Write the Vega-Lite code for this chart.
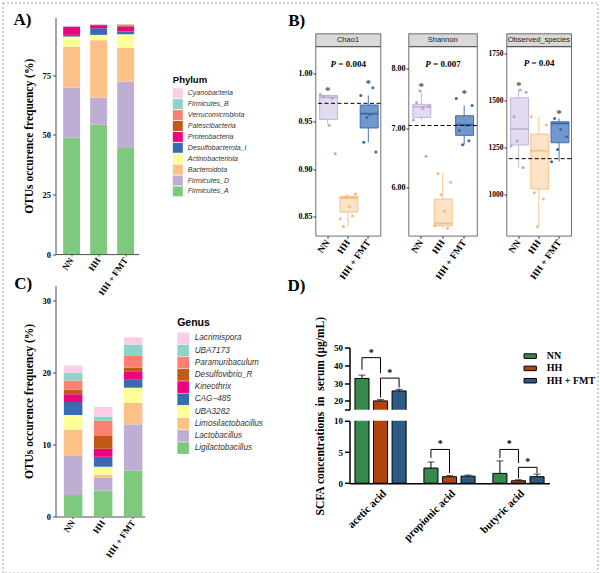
{
  "$schema": "https://vega.github.io/schema/vega-lite/v6.json",
  "padding": {"left": 1.5, "top": 1.5, "right": 0, "bottom": 0},
  "datasets": {
    "phylum": [
      {"group": "NN", "phylum": "Firmicutes_A", "rank": 1, "pct": 48.95},
      {"group": "NN", "phylum": "Firmicutes_D", "rank": 2, "pct": 20.95},
      {"group": "NN", "phylum": "Bacteroidota", "rank": 3, "pct": 17.1},
      {"group": "NN", "phylum": "Actinobacteriota", "rank": 4, "pct": 4.3},
      {"group": "NN", "phylum": "Desulfobacterota_I", "rank": 5, "pct": 0.7},
      {"group": "NN", "phylum": "Proteobacteria", "rank": 6, "pct": 3.4},
      {"group": "NN", "phylum": "Patescibacteria", "rank": 7, "pct": 0.05},
      {"group": "NN", "phylum": "Verrucomicrobiota", "rank": 8, "pct": 0.1},
      {"group": "NN", "phylum": "Firmicutes_B", "rank": 9, "pct": 0.1},
      {"group": "NN", "phylum": "Cyanobacteria", "rank": 10, "pct": 0.2},
      {"group": "HH", "phylum": "Firmicutes_A", "rank": 1, "pct": 54.3},
      {"group": "HH", "phylum": "Firmicutes_D", "rank": 2, "pct": 11.4},
      {"group": "HH", "phylum": "Bacteroidota", "rank": 3, "pct": 24.1},
      {"group": "HH", "phylum": "Actinobacteriota", "rank": 4, "pct": 2.2},
      {"group": "HH", "phylum": "Desulfobacterota_I", "rank": 5, "pct": 2.8},
      {"group": "HH", "phylum": "Proteobacteria", "rank": 6, "pct": 1.3},
      {"group": "HH", "phylum": "Patescibacteria", "rank": 7, "pct": 0.05},
      {"group": "HH", "phylum": "Verrucomicrobiota", "rank": 8, "pct": 0.15},
      {"group": "HH", "phylum": "Firmicutes_B", "rank": 9, "pct": 0.1},
      {"group": "HH", "phylum": "Cyanobacteria", "rank": 10, "pct": 0.1},
      {"group": "HH + FMT", "phylum": "Firmicutes_A", "rank": 1, "pct": 44.5},
      {"group": "HH + FMT", "phylum": "Firmicutes_D", "rank": 2, "pct": 27.9},
      {"group": "HH + FMT", "phylum": "Bacteroidota", "rank": 3, "pct": 14.3},
      {"group": "HH + FMT", "phylum": "Actinobacteriota", "rank": 4, "pct": 5.6},
      {"group": "HH + FMT", "phylum": "Desulfobacterota_I", "rank": 5, "pct": 1.1},
      {"group": "HH + FMT", "phylum": "Proteobacteria", "rank": 6, "pct": 2.0},
      {"group": "HH + FMT", "phylum": "Patescibacteria", "rank": 7, "pct": 0.3},
      {"group": "HH + FMT", "phylum": "Verrucomicrobiota", "rank": 8, "pct": 0.7},
      {"group": "HH + FMT", "phylum": "Firmicutes_B", "rank": 9, "pct": 0.05},
      {"group": "HH + FMT", "phylum": "Cyanobacteria", "rank": 10, "pct": 0.1}
    ],
    "genus": [
      {"group": "NN", "genus": "Ligilactobacillus", "rank": 1, "pct": 3.0},
      {"group": "NN", "genus": "Lactobacillus", "rank": 2, "pct": 5.4},
      {"group": "NN", "genus": "Limosilactobacillus", "rank": 3, "pct": 3.7},
      {"group": "NN", "genus": "UBA3282", "rank": 4, "pct": 2.0},
      {"group": "NN", "genus": "CAG−485", "rank": 5, "pct": 1.8},
      {"group": "NN", "genus": "Kineothrix", "rank": 6, "pct": 1.1},
      {"group": "NN", "genus": "Desulfovibrio_R", "rank": 7, "pct": 0.6},
      {"group": "NN", "genus": "Paramuribaculum", "rank": 8, "pct": 1.3},
      {"group": "NN", "genus": "UBA7173", "rank": 9, "pct": 1.1},
      {"group": "NN", "genus": "Lacrimispora", "rank": 10, "pct": 1.0},
      {"group": "HH", "genus": "Ligilactobacillus", "rank": 1, "pct": 3.6},
      {"group": "HH", "genus": "Lactobacillus", "rank": 2, "pct": 1.8},
      {"group": "HH", "genus": "Limosilactobacillus", "rank": 3, "pct": 0.4},
      {"group": "HH", "genus": "UBA3282", "rank": 4, "pct": 1.1},
      {"group": "HH", "genus": "CAG−485", "rank": 5, "pct": 1.4},
      {"group": "HH", "genus": "Kineothrix", "rank": 6, "pct": 1.1},
      {"group": "HH", "genus": "Desulfovibrio_R", "rank": 7, "pct": 1.8},
      {"group": "HH", "genus": "Paramuribaculum", "rank": 8, "pct": 2.1},
      {"group": "HH", "genus": "UBA7173", "rank": 9, "pct": 0.6},
      {"group": "HH", "genus": "Lacrimispora", "rank": 10, "pct": 1.3},
      {"group": "HH + FMT", "genus": "Ligilactobacillus", "rank": 1, "pct": 6.4},
      {"group": "HH + FMT", "genus": "Lactobacillus", "rank": 2, "pct": 6.4},
      {"group": "HH + FMT", "genus": "Limosilactobacillus", "rank": 3, "pct": 3.0},
      {"group": "HH + FMT", "genus": "UBA3282", "rank": 4, "pct": 2.1},
      {"group": "HH + FMT", "genus": "CAG−485", "rank": 5, "pct": 1.1},
      {"group": "HH + FMT", "genus": "Kineothrix", "rank": 6, "pct": 1.1},
      {"group": "HH + FMT", "genus": "Desulfovibrio_R", "rank": 7, "pct": 0.6},
      {"group": "HH + FMT", "genus": "Paramuribaculum", "rank": 8, "pct": 1.7},
      {"group": "HH + FMT", "genus": "UBA7173", "rank": 9, "pct": 1.5},
      {"group": "HH + FMT", "genus": "Lacrimispora", "rank": 10, "pct": 1.0}
    ],
    "alpha_box": [
      {"metric": "Chao1", "group": "NN", "lower": 0.947, "q1": 0.952, "median": 0.975, "q3": 0.977, "upper": 0.978, "max": 0.978, "sig": true},
      {"metric": "Chao1", "group": "HH", "lower": 0.840, "q1": 0.855, "median": 0.870, "q3": 0.8715, "upper": 0.874, "max": 0.874, "sig": false},
      {"metric": "Chao1", "group": "HH + FMT", "lower": 0.928, "q1": 0.943, "median": 0.958, "q3": 0.967, "upper": 0.977, "max": 0.985, "sig": true},
      {"metric": "Shannon", "group": "NN", "lower": 7.14, "q1": 7.18, "median": 7.36, "q3": 7.40, "upper": 7.63, "max": 7.63, "sig": true},
      {"metric": "Shannon", "group": "HH", "lower": 5.31, "q1": 5.36, "median": 5.40, "q3": 5.81, "upper": 6.24, "max": 6.24, "sig": false},
      {"metric": "Shannon", "group": "HH + FMT", "lower": 6.72, "q1": 6.88, "median": 7.06, "q3": 7.21, "upper": 7.38, "max": 7.50, "sig": true},
      {"metric": "Observed_species", "group": "NN", "lower": 1143, "q1": 1263, "median": 1348, "q3": 1515, "upper": 1557, "max": 1557, "sig": true},
      {"metric": "Observed_species", "group": "HH", "lower": 826, "q1": 1028, "median": 1232, "q3": 1322, "upper": 1414, "max": 1414, "sig": false},
      {"metric": "Observed_species", "group": "HH + FMT", "lower": 1174, "q1": 1275, "median": 1378, "q3": 1387, "upper": 1405, "max": 1405, "sig": true}
    ],
    "alpha_pts": [
      {"metric": "Chao1", "group": "NN", "mouse": "m1", "value": 0.978},
      {"metric": "Chao1", "group": "NN", "mouse": "m2", "value": 0.976},
      {"metric": "Chao1", "group": "NN", "mouse": "m5", "value": 0.974},
      {"metric": "Chao1", "group": "NN", "mouse": "m4", "value": 0.946},
      {"metric": "Chao1", "group": "NN", "mouse": "m6", "value": 0.916},
      {"metric": "Chao1", "group": "HH", "mouse": "m6", "value": 0.874},
      {"metric": "Chao1", "group": "HH", "mouse": "m3", "value": 0.871},
      {"metric": "Chao1", "group": "HH", "mouse": "m4", "value": 0.861},
      {"metric": "Chao1", "group": "HH", "mouse": "m5", "value": 0.851},
      {"metric": "Chao1", "group": "HH", "mouse": "m1", "value": 0.848},
      {"metric": "Chao1", "group": "HH", "mouse": "m2", "value": 0.840},
      {"metric": "Chao1", "group": "HH + FMT", "mouse": "m5", "value": 0.985},
      {"metric": "Chao1", "group": "HH + FMT", "mouse": "m1", "value": 0.977},
      {"metric": "Chao1", "group": "HH + FMT", "mouse": "m4", "value": 0.957},
      {"metric": "Chao1", "group": "HH + FMT", "mouse": "m3", "value": 0.954},
      {"metric": "Chao1", "group": "HH + FMT", "mouse": "m2", "value": 0.928},
      {"metric": "Chao1", "group": "HH + FMT", "mouse": "m6", "value": 0.918},
      {"metric": "Shannon", "group": "NN", "mouse": "m3", "value": 7.63},
      {"metric": "Shannon", "group": "NN", "mouse": "m2", "value": 7.43},
      {"metric": "Shannon", "group": "NN", "mouse": "m6", "value": 7.37},
      {"metric": "Shannon", "group": "NN", "mouse": "m4", "value": 7.33},
      {"metric": "Shannon", "group": "NN", "mouse": "m1", "value": 7.14},
      {"metric": "Shannon", "group": "NN", "mouse": "m5", "value": 6.53},
      {"metric": "Shannon", "group": "HH", "mouse": "m2", "value": 6.24},
      {"metric": "Shannon", "group": "HH", "mouse": "m6", "value": 6.09},
      {"metric": "Shannon", "group": "HH", "mouse": "m3", "value": 5.88},
      {"metric": "Shannon", "group": "HH", "mouse": "m4", "value": 5.61},
      {"metric": "Shannon", "group": "HH", "mouse": "m1", "value": 5.36},
      {"metric": "Shannon", "group": "HH", "mouse": "m5", "value": 5.32},
      {"metric": "Shannon", "group": "HH + FMT", "mouse": "m1", "value": 7.50},
      {"metric": "Shannon", "group": "HH + FMT", "mouse": "m6", "value": 7.38},
      {"metric": "Shannon", "group": "HH + FMT", "mouse": "m4", "value": 7.05},
      {"metric": "Shannon", "group": "HH + FMT", "mouse": "m2", "value": 6.96},
      {"metric": "Shannon", "group": "HH + FMT", "mouse": "m5", "value": 6.79},
      {"metric": "Shannon", "group": "HH + FMT", "mouse": "m3", "value": 6.72},
      {"metric": "Observed_species", "group": "NN", "mouse": "m4", "value": 1557},
      {"metric": "Observed_species", "group": "NN", "mouse": "m6", "value": 1545},
      {"metric": "Observed_species", "group": "NN", "mouse": "m2", "value": 1414},
      {"metric": "Observed_species", "group": "NN", "mouse": "m3", "value": 1284},
      {"metric": "Observed_species", "group": "NN", "mouse": "m1", "value": 1257},
      {"metric": "Observed_species", "group": "NN", "mouse": "m5", "value": 1143},
      {"metric": "Observed_species", "group": "HH", "mouse": "m1", "value": 1414},
      {"metric": "Observed_species", "group": "HH", "mouse": "m6", "value": 1370},
      {"metric": "Observed_species", "group": "HH", "mouse": "m2", "value": 1008},
      {"metric": "Observed_species", "group": "HH", "mouse": "m5", "value": 974},
      {"metric": "Observed_species", "group": "HH", "mouse": "m3", "value": 826},
      {"metric": "Observed_species", "group": "HH + FMT", "mouse": "m2", "value": 1405},
      {"metric": "Observed_species", "group": "HH + FMT", "mouse": "m4", "value": 1346},
      {"metric": "Observed_species", "group": "HH + FMT", "mouse": "m6", "value": 1307},
      {"metric": "Observed_species", "group": "HH + FMT", "mouse": "m3", "value": 1239},
      {"metric": "Observed_species", "group": "HH + FMT", "mouse": "m1", "value": 1174}
    ],
    "alpha_ref": [
      {"metric": "Chao1", "ref": 0.9688, "p": "0.004"},
      {"metric": "Shannon", "ref": 7.045, "p": "0.007"},
      {"metric": "Observed_species", "ref": 1190, "p": "0.04"}
    ],
    "scfa": [
      {"acid": "acetic acid", "group": "NN", "mean": 32.6, "upper": 34.5},
      {"acid": "acetic acid", "group": "HH", "mean": 20.0, "upper": 20.7},
      {"acid": "acetic acid", "group": "HH + FMT", "mean": 25.6, "upper": 26.5},
      {"acid": "propionic acid", "group": "NN", "mean": 2.43, "upper": 3.4},
      {"acid": "propionic acid", "group": "HH", "mean": 1.04, "upper": 1.2},
      {"acid": "propionic acid", "group": "HH + FMT", "mean": 1.13, "upper": 1.3},
      {"acid": "butyric acid", "group": "NN", "mean": 1.57, "upper": 3.57},
      {"acid": "butyric acid", "group": "HH", "mean": 0.39, "upper": 0.55},
      {"acid": "butyric acid", "group": "HH + FMT", "mean": 1.04, "upper": 1.46}
    ],
    "brackets": [
      {"bracket": "b1", "acid": "acetic acid", "group": "NN", "v": 1, "y": 37.5},
      {"bracket": "b1", "acid": "acetic acid", "group": "NN", "v": 2, "y": 44.3},
      {"bracket": "b1", "acid": "acetic acid", "group": "HH", "v": 3, "y": 44.3},
      {"bracket": "b1", "acid": "acetic acid", "group": "HH", "v": 4, "y": 35.6},
      {"bracket": "b2", "acid": "acetic acid", "group": "HH", "v": 1, "y": 21.9},
      {"bracket": "b2", "acid": "acetic acid", "group": "HH", "v": 2, "y": 32.8},
      {"bracket": "b2", "acid": "acetic acid", "group": "HH + FMT", "v": 3, "y": 32.8},
      {"bracket": "b2", "acid": "acetic acid", "group": "HH + FMT", "v": 4, "y": 27.5},
      {"bracket": "b3", "acid": "propionic acid", "group": "NN", "v": 1, "y": 4.05},
      {"bracket": "b3", "acid": "propionic acid", "group": "NN", "v": 2, "y": 5.41},
      {"bracket": "b3", "acid": "propionic acid", "group": "HH", "v": 3, "y": 5.41},
      {"bracket": "b3", "acid": "propionic acid", "group": "HH", "v": 4, "y": 1.62},
      {"bracket": "b4", "acid": "butyric acid", "group": "NN", "v": 1, "y": 4.05},
      {"bracket": "b4", "acid": "butyric acid", "group": "NN", "v": 2, "y": 5.41},
      {"bracket": "b4", "acid": "butyric acid", "group": "HH", "v": 3, "y": 5.41},
      {"bracket": "b4", "acid": "butyric acid", "group": "HH", "v": 4, "y": 3.24},
      {"bracket": "b5", "acid": "butyric acid", "group": "HH", "v": 1, "y": 0.8},
      {"bracket": "b5", "acid": "butyric acid", "group": "HH", "v": 2, "y": 2.54},
      {"bracket": "b5", "acid": "butyric acid", "group": "HH + FMT", "v": 3, "y": 2.54},
      {"bracket": "b5", "acid": "butyric acid", "group": "HH + FMT", "v": 4, "y": 1.62}
    ]
  },
  "hconcat": [
    {
      "hconcat": [
        {
          "width": 595, "height": 570,
          "view": {"stroke": "#a6a6a6", "strokeWidth": 1, "strokeDash": [2, 2]},
          "data": {"values": []},
          "mark": "point"
        }
      ],
      "spacing": 0, "bounds": "flush"
    },
    {
      "hconcat": [
        {"width": 53, "height": 1, "data": {"values": []}, "mark": "point"},
        {
          "vconcat": [
            {"width": 1, "height": 14.7, "data": {"values": []}, "mark": "point"},
            {
              "width": 83.3, "height": 236.6,
              "title": {"text": "A)", "dx": -42, "dy": 15},
              "data": {"name": "phylum"},
              "mark": {"type": "bar"},
              "encoding": {
                "x": {"field": "group", "type": "nominal", "sort": ["NN", "HH", "HH + FMT"], "title": null,
                  "scale": {"paddingInner": 0.373, "paddingOuter": 0.229, "align": 0.62},
                  "axis": {"labelAngle": -55, "labelFontSize": 9, "tickSize": 2, "labelPadding": 2, "domainColor": "#4d4d4d", "tickColor": "#4d4d4d"}},
                "y": {"field": "pct", "type": "quantitative", "stack": "zero",
                  "scale": {"domain": [0, 99.3], "nice": false},
                  "axis": {"values": [0, 25, 50, 75], "tickCount": 10, "title": "OTUs occurence frequency (%)", "titleFontSize": 11.5, "labelFontSize": 8.5, "tickSize": 3, "labelPadding": 2, "titlePadding": 7.5, "domainColor": "#4d4d4d", "tickColor": "#4d4d4d"}},
                "color": {"field": "phylum", "type": "nominal",
                  "scale": {
                    "domain": ["Cyanobacteria", "Firmicutes_B", "Verrucomicrobiota", "Patescibacteria", "Proteobacteria", "Desulfobacterota_I", "Actinobacteriota", "Bacteroidota", "Firmicutes_D", "Firmicutes_A"],
                    "range": ["#fccde5", "#8dd3c7", "#fb8072", "#bf5b17", "#f0027f", "#386cb0", "#ffff99", "#fdc086", "#beaed4", "#7fc97f"]},
                  "legend": {"title": "Phylum", "orient": "none", "legendX": 117.3, "legendY": 57.3, "symbolType": "square", "symbolSize": 100, "symbolStrokeWidth": 0, "symbolOpacity": 1,
                    "labelFont": "Liberation Sans", "labelFontStyle": "italic", "labelFontSize": 7, "labelColor": "#333333", "labelOffset": 5,
                    "titleFont": "Liberation Sans", "titleFontSize": 9.5, "titleFontWeight": "bold", "titleColor": "#000000", "titlePadding": 4, "rowPadding": 0.9, "padding": 0}},
                "order": {"field": "rank", "type": "quantitative", "sort": "ascending"}
              }
            }
          ],
          "spacing": 0, "bounds": "flush",
          "resolve": {"scale": {"color": "independent", "fill": "independent", "stroke": "independent", "xOffset": "independent"}}
        }
      ],
      "spacing": 0, "bounds": "flush",
      "resolve": {"scale": {"color": "independent", "fill": "independent", "stroke": "independent", "xOffset": "independent"}}
    },
    {
      "hconcat": [
        {"width": 52.3, "height": 1, "data": {"values": []}, "mark": "point"},
        {
          "vconcat": [
            {"width": 1, "height": 283, "data": {"values": []}, "mark": "point"},
            {
              "width": 89.2, "height": 231,
              "title": {"text": "C)", "dx": -41.3, "dy": 11},
              "data": {"name": "genus"},
              "mark": {"type": "bar"},
              "encoding": {
                "x": {"field": "group", "type": "nominal", "sort": ["NN", "HH", "HH + FMT"], "title": null,
                  "scale": {"paddingInner": 0.383, "paddingOuter": 0.178, "align": 0.785},
                  "axis": {"labelAngle": -55, "labelFontSize": 9, "tickSize": 2, "labelPadding": 2, "domainColor": "#4d4d4d", "tickColor": "#4d4d4d"}},
                "y": {"field": "pct", "type": "quantitative", "stack": "zero",
                  "scale": {"domain": [0, 32.1], "nice": false},
                  "axis": {"values": [0, 10, 20, 30], "tickCount": 10, "title": "OTUs occurence frequency (%)", "titleFontSize": 11.5, "labelFontSize": 8.5, "tickSize": 3, "labelPadding": 2, "titlePadding": 7.5, "domainColor": "#4d4d4d", "tickColor": "#4d4d4d"}},
                "color": {"field": "genus", "type": "nominal",
                  "scale": {
                    "domain": ["Lacrimispora", "UBA7173", "Paramuribaculum", "Desulfovibrio_R", "Kineothrix", "CAG−485", "UBA3282", "Limosilactobacillus", "Lactobacillus", "Ligilactobacillus"],
                    "range": ["#fccde5", "#8dd3c7", "#fb8072", "#bf5b17", "#f0027f", "#386cb0", "#ffff99", "#fdc086", "#beaed4", "#7fc97f"]},
                  "legend": {"title": "Genus", "orient": "none", "legendX": 121.7, "legendY": 32.3, "symbolType": "square", "symbolSize": 137, "symbolStrokeWidth": 0, "symbolOpacity": 1,
                    "labelFont": "Liberation Sans", "labelFontStyle": "italic", "labelFontSize": 8.2, "labelColor": "#333333", "labelOffset": 5.5,
                    "titleFont": "Liberation Sans", "titleFontSize": 10.5, "titleFontWeight": "bold", "titleColor": "#000000", "titlePadding": 4, "rowPadding": 0.2, "padding": 0}},
                "order": {"field": "rank", "type": "quantitative", "sort": "ascending"}
              }
            }
          ],
          "spacing": 0, "bounds": "flush",
          "resolve": {"scale": {"color": "independent", "fill": "independent", "stroke": "independent", "xOffset": "independent"}}
        }
      ],
      "spacing": 0, "bounds": "flush",
      "resolve": {"scale": {"color": "independent", "fill": "independent", "stroke": "independent", "xOffset": "independent"}}
    },
    {
      "hconcat": [
        {"width": 312.3, "height": 1, "data": {"values": []}, "mark": "point"},
        {
          "vconcat": [
            {"width": 1, "height": 30.3, "data": {"values": []}, "mark": "point"},
            {
              "width": 65, "height": 12.7,
              "title": {"text": "B)", "dx": -27.3, "dy": 0},
              "view": {"fill": "#d9d9d9", "stroke": "#4d4d4d", "strokeWidth": 0.8},
              "data": {"values": [{"metric": "Chao1"}]},
              "mark": {"type": "text", "font": "Liberation Sans", "fontSize": 7.5, "color": "#1a1a1a", "baseline": "middle"},
              "encoding": {"text": {"field": "metric"}}
            },
            {
              "width": 65, "height": 189.3,
              "view": {"stroke": "#4d4d4d", "strokeWidth": 0.8},
              "layer": [
                {
                  "data": {"name": "alpha_box"},
                  "transform": [{"filter": "datum.metric === 'Chao1'"}],
                  "mark": {"type": "rule", "strokeWidth": 0.9},
                  "encoding": {
                    "x": {"field": "group", "type": "nominal", "sort": ["NN", "HH", "HH + FMT"], "title": null,
                      "scale": {"paddingInner": 0.2, "paddingOuter": 0.2},
                      "axis": {"labelAngle": -55, "labelFontSize": 9.5, "tickSize": 2.5, "labelPadding": 2, "domain": false, "tickColor": "#333333"}},
                    "y": {"field": "lower", "type": "quantitative", "title": null,
                      "scale": {"domain": [0.8303, 1.0282], "nice": false, "zero": false},
                      "axis": {"values": [0.85, 0.9, 0.95, 1], "tickCount": 10, "format": ".2f", "labelFontSize": 8, "tickSize": 2.5, "labelPadding": 1, "domain": false, "tickColor": "#333333", "labelOverlap": false}},
                    "y2": {"field": "q1"},
                    "stroke": {"field": "group", "type": "nominal", "scale": {"domain": ["NN", "HH", "HH + FMT"], "range": ["#bcaed5", "#f6bd82", "#3566a8"]}, "legend": null}
                  }
                },
                {
                  "data": {"name": "alpha_box"},
                  "transform": [{"filter": "datum.metric === 'Chao1'"}],
                  "mark": {"type": "rule", "strokeWidth": 0.9},
                  "encoding": {
                    "x": {"field": "group", "type": "nominal", "sort": ["NN", "HH", "HH + FMT"], "title": null},
                    "y": {"field": "q3", "type": "quantitative", "title": null, "scale": {"domain": [0.8303, 1.0282], "nice": false, "zero": false}},
                    "y2": {"field": "upper"},
                    "stroke": {"field": "group", "type": "nominal", "scale": {"domain": ["NN", "HH", "HH + FMT"], "range": ["#bcaed5", "#f6bd82", "#3566a8"]}, "legend": null}
                  }
                },
                {
                  "data": {"name": "alpha_box"},
                  "transform": [{"filter": "datum.metric === 'Chao1'"}],
                  "mark": {"type": "bar", "strokeWidth": 0.9},
                  "encoding": {
                    "x": {"field": "group", "type": "nominal", "sort": ["NN", "HH", "HH + FMT"], "title": null},
                    "y": {"field": "q1", "type": "quantitative", "title": null, "scale": {"domain": [0.8303, 1.0282], "nice": false, "zero": false}},
                    "y2": {"field": "q3"},
                    "fill": {"field": "group", "type": "nominal", "scale": {"domain": ["NN", "HH", "HH + FMT"], "range": ["#e2daee", "#fde2c6", "#7397cc"]}, "legend": null},
                    "stroke": {"field": "group", "type": "nominal", "scale": {"domain": ["NN", "HH", "HH + FMT"], "range": ["#bcaed5", "#f6bd82", "#3566a8"]}, "legend": null}
                  }
                },
                {
                  "data": {"name": "alpha_box"},
                  "transform": [{"filter": "datum.metric === 'Chao1'"}],
                  "mark": {"type": "bar", "strokeWidth": 1.6, "fillOpacity": 0},
                  "encoding": {
                    "x": {"field": "group", "type": "nominal", "sort": ["NN", "HH", "HH + FMT"], "title": null},
                    "y": {"field": "median", "type": "quantitative", "title": null, "scale": {"domain": [0.8303, 1.0282], "nice": false, "zero": false}},
                    "y2": {"field": "median"},
                    "stroke": {"field": "group", "type": "nominal", "scale": {"domain": ["NN", "HH", "HH + FMT"], "range": ["#bcaed5", "#f6bd82", "#3566a8"]}, "legend": null}
                  }
                },
                {
                  "data": {"name": "alpha_pts"},
                  "transform": [{"filter": "datum.metric === 'Chao1'"}],
                  "mark": {"type": "circle", "size": 9, "opacity": 1},
                  "encoding": {
                    "x": {"field": "group", "type": "nominal", "sort": ["NN", "HH", "HH + FMT"], "title": null},
                    "xOffset": {"field": "mouse", "type": "nominal", "sort": "ascending", "scale": {"paddingOuter": 0.2}},
                    "y": {"field": "value", "type": "quantitative", "title": null, "scale": {"domain": [0.8303, 1.0282], "nice": false, "zero": false}},
                    "color": {"field": "group", "type": "nominal", "scale": {"domain": ["NN", "HH", "HH + FMT"], "range": ["#b5a5d0", "#f7b878", "#3668ad"]}, "legend": null}
                  }
                },
                {
                  "data": {"name": "alpha_ref"},
                  "transform": [{"filter": "datum.metric === 'Chao1'"}],
                  "mark": {"type": "rule", "strokeDash": [4, 2.5], "strokeWidth": 1, "color": "#000000"},
                  "encoding": {
                    "y": {"field": "ref", "type": "quantitative", "title": null, "scale": {"domain": [0.8303, 1.0282], "nice": false, "zero": false}}
                  }
                },
                {
                  "data": {"name": "alpha_box"},
                  "transform": [{"filter": "datum.metric === 'Chao1' && datum.sig"}],
                  "mark": {"type": "text", "text": "*", "fontSize": 11, "fontWeight": "bold", "color": "#4d4d4d", "baseline": "alphabetic", "dy": -1},
                  "encoding": {
                    "x": {"field": "group", "type": "nominal", "sort": ["NN", "HH", "HH + FMT"], "title": null},
                    "y": {"field": "max", "type": "quantitative", "title": null, "scale": {"domain": [0.8303, 1.0282], "nice": false, "zero": false}}
                  }
                },
                {
                  "data": {"name": "alpha_ref"},
                  "transform": [{"filter": "datum.metric === 'Chao1'"}],
                  "mark": {"type": "text", "text": "P", "fontStyle": "italic", "fontWeight": "bold", "fontSize": 9, "align": "right", "baseline": "middle", "dx": -11.9},
                  "encoding": {
                    "x": {"datum": "HH", "type": "nominal", "title": null},
                    "y": {"datum": 1.0097, "type": "quantitative", "title": null, "scale": {"domain": [0.8303, 1.0282], "nice": false, "zero": false}}
                  }
                },
                {
                  "data": {"name": "alpha_ref"},
                  "transform": [{"filter": "datum.metric === 'Chao1'"}],
                  "mark": {"type": "text", "text": "=", "fontWeight": "bold", "fontSize": 9, "align": "center", "baseline": "middle", "dx": -7.1},
                  "encoding": {
                    "x": {"datum": "HH", "type": "nominal", "title": null},
                    "y": {"datum": 1.0097, "type": "quantitative", "title": null, "scale": {"domain": [0.8303, 1.0282], "nice": false, "zero": false}}
                  }
                },
                {
                  "data": {"name": "alpha_ref"},
                  "transform": [{"filter": "datum.metric === 'Chao1'"}],
                  "mark": {"type": "text", "fontWeight": "bold", "fontSize": 9, "align": "left", "baseline": "middle", "dx": -2.3},
                  "encoding": {
                    "x": {"datum": "HH", "type": "nominal", "title": null},
                    "y": {"datum": 1.0097, "type": "quantitative", "title": null, "scale": {"domain": [0.8303, 1.0282], "nice": false, "zero": false}},
                    "text": {"field": "p"}
                  }
                }
              ]
            }
          ],
          "spacing": 0, "bounds": "flush",
          "resolve": {"scale": {"color": "independent", "fill": "independent", "stroke": "independent", "xOffset": "independent"}}
        }
      ],
      "spacing": 0, "bounds": "flush",
      "resolve": {"scale": {"color": "independent", "fill": "independent", "stroke": "independent", "xOffset": "independent"}}
    },
    {
      "hconcat": [
        {"width": 405.5, "height": 1, "data": {"values": []}, "mark": "point"},
        {
          "vconcat": [
            {"width": 1, "height": 30.3, "data": {"values": []}, "mark": "point"},
            {
              "width": 68.5, "height": 12.7,
              "view": {"fill": "#d9d9d9", "stroke": "#4d4d4d", "strokeWidth": 0.8},
              "data": {"values": [{"metric": "Shannon"}]},
              "mark": {"type": "text", "font": "Liberation Sans", "fontSize": 7.5, "color": "#1a1a1a", "baseline": "middle"},
              "encoding": {"text": {"field": "metric"}}
            },
            {
              "width": 68.5, "height": 189.3,
              "view": {"stroke": "#4d4d4d", "strokeWidth": 0.8},
              "layer": [
                {
                  "data": {"name": "alpha_box"},
                  "transform": [{"filter": "datum.metric === 'Shannon'"}],
                  "mark": {"type": "rule", "strokeWidth": 0.9},
                  "encoding": {
                    "x": {"field": "group", "type": "nominal", "sort": ["NN", "HH", "HH + FMT"], "title": null,
                      "scale": {"paddingInner": 0.2, "paddingOuter": 0.2},
                      "axis": {"labelAngle": -55, "labelFontSize": 9.5, "tickSize": 2.5, "labelPadding": 2, "domain": false, "tickColor": "#333333"}},
                    "y": {"field": "lower", "type": "quantitative", "title": null,
                      "scale": {"domain": [5.192, 8.373], "nice": false, "zero": false},
                      "axis": {"values": [6, 7, 8], "tickCount": 10, "format": ".2f", "labelFontSize": 8, "tickSize": 2.5, "labelPadding": 1, "domain": false, "tickColor": "#333333", "labelOverlap": false}},
                    "y2": {"field": "q1"},
                    "stroke": {"field": "group", "type": "nominal", "scale": {"domain": ["NN", "HH", "HH + FMT"], "range": ["#bcaed5", "#f6bd82", "#3566a8"]}, "legend": null}
                  }
                },
                {
                  "data": {"name": "alpha_box"},
                  "transform": [{"filter": "datum.metric === 'Shannon'"}],
                  "mark": {"type": "rule", "strokeWidth": 0.9},
                  "encoding": {
                    "x": {"field": "group", "type": "nominal", "sort": ["NN", "HH", "HH + FMT"], "title": null},
                    "y": {"field": "q3", "type": "quantitative", "title": null, "scale": {"domain": [5.192, 8.373], "nice": false, "zero": false}},
                    "y2": {"field": "upper"},
                    "stroke": {"field": "group", "type": "nominal", "scale": {"domain": ["NN", "HH", "HH + FMT"], "range": ["#bcaed5", "#f6bd82", "#3566a8"]}, "legend": null}
                  }
                },
                {
                  "data": {"name": "alpha_box"},
                  "transform": [{"filter": "datum.metric === 'Shannon'"}],
                  "mark": {"type": "bar", "strokeWidth": 0.9},
                  "encoding": {
                    "x": {"field": "group", "type": "nominal", "sort": ["NN", "HH", "HH + FMT"], "title": null},
                    "y": {"field": "q1", "type": "quantitative", "title": null, "scale": {"domain": [5.192, 8.373], "nice": false, "zero": false}},
                    "y2": {"field": "q3"},
                    "fill": {"field": "group", "type": "nominal", "scale": {"domain": ["NN", "HH", "HH + FMT"], "range": ["#e2daee", "#fde2c6", "#7397cc"]}, "legend": null},
                    "stroke": {"field": "group", "type": "nominal", "scale": {"domain": ["NN", "HH", "HH + FMT"], "range": ["#bcaed5", "#f6bd82", "#3566a8"]}, "legend": null}
                  }
                },
                {
                  "data": {"name": "alpha_box"},
                  "transform": [{"filter": "datum.metric === 'Shannon'"}],
                  "mark": {"type": "bar", "strokeWidth": 1.6, "fillOpacity": 0},
                  "encoding": {
                    "x": {"field": "group", "type": "nominal", "sort": ["NN", "HH", "HH + FMT"], "title": null},
                    "y": {"field": "median", "type": "quantitative", "title": null, "scale": {"domain": [5.192, 8.373], "nice": false, "zero": false}},
                    "y2": {"field": "median"},
                    "stroke": {"field": "group", "type": "nominal", "scale": {"domain": ["NN", "HH", "HH + FMT"], "range": ["#bcaed5", "#f6bd82", "#3566a8"]}, "legend": null}
                  }
                },
                {
                  "data": {"name": "alpha_pts"},
                  "transform": [{"filter": "datum.metric === 'Shannon'"}],
                  "mark": {"type": "circle", "size": 9, "opacity": 1},
                  "encoding": {
                    "x": {"field": "group", "type": "nominal", "sort": ["NN", "HH", "HH + FMT"], "title": null},
                    "xOffset": {"field": "mouse", "type": "nominal", "sort": "ascending", "scale": {"paddingOuter": 0.2}},
                    "y": {"field": "value", "type": "quantitative", "title": null, "scale": {"domain": [5.192, 8.373], "nice": false, "zero": false}},
                    "color": {"field": "group", "type": "nominal", "scale": {"domain": ["NN", "HH", "HH + FMT"], "range": ["#b5a5d0", "#f7b878", "#3668ad"]}, "legend": null}
                  }
                },
                {
                  "data": {"name": "alpha_ref"},
                  "transform": [{"filter": "datum.metric === 'Shannon'"}],
                  "mark": {"type": "rule", "strokeDash": [4, 2.5], "strokeWidth": 1, "color": "#000000"},
                  "encoding": {
                    "y": {"field": "ref", "type": "quantitative", "title": null, "scale": {"domain": [5.192, 8.373], "nice": false, "zero": false}}
                  }
                },
                {
                  "data": {"name": "alpha_box"},
                  "transform": [{"filter": "datum.metric === 'Shannon' && datum.sig"}],
                  "mark": {"type": "text", "text": "*", "fontSize": 11, "fontWeight": "bold", "color": "#4d4d4d", "baseline": "alphabetic", "dy": -1},
                  "encoding": {
                    "x": {"field": "group", "type": "nominal", "sort": ["NN", "HH", "HH + FMT"], "title": null},
                    "y": {"field": "max", "type": "quantitative", "title": null, "scale": {"domain": [5.192, 8.373], "nice": false, "zero": false}}
                  }
                },
                {
                  "data": {"name": "alpha_ref"},
                  "transform": [{"filter": "datum.metric === 'Shannon'"}],
                  "mark": {"type": "text", "text": "P", "fontStyle": "italic", "fontWeight": "bold", "fontSize": 9, "align": "right", "baseline": "middle", "dx": -11.9},
                  "encoding": {
                    "x": {"datum": "HH", "type": "nominal", "title": null},
                    "y": {"datum": 8.076, "type": "quantitative", "title": null, "scale": {"domain": [5.192, 8.373], "nice": false, "zero": false}}
                  }
                },
                {
                  "data": {"name": "alpha_ref"},
                  "transform": [{"filter": "datum.metric === 'Shannon'"}],
                  "mark": {"type": "text", "text": "=", "fontWeight": "bold", "fontSize": 9, "align": "center", "baseline": "middle", "dx": -7.1},
                  "encoding": {
                    "x": {"datum": "HH", "type": "nominal", "title": null},
                    "y": {"datum": 8.076, "type": "quantitative", "title": null, "scale": {"domain": [5.192, 8.373], "nice": false, "zero": false}}
                  }
                },
                {
                  "data": {"name": "alpha_ref"},
                  "transform": [{"filter": "datum.metric === 'Shannon'"}],
                  "mark": {"type": "text", "fontWeight": "bold", "fontSize": 9, "align": "left", "baseline": "middle", "dx": -2.3},
                  "encoding": {
                    "x": {"datum": "HH", "type": "nominal", "title": null},
                    "y": {"datum": 8.076, "type": "quantitative", "title": null, "scale": {"domain": [5.192, 8.373], "nice": false, "zero": false}},
                    "text": {"field": "p"}
                  }
                }
              ]
            }
          ],
          "spacing": 0, "bounds": "flush",
          "resolve": {"scale": {"color": "independent", "fill": "independent", "stroke": "independent", "xOffset": "independent"}}
        }
      ],
      "spacing": 0, "bounds": "flush",
      "resolve": {"scale": {"color": "independent", "fill": "independent", "stroke": "independent", "xOffset": "independent"}}
    },
    {
      "hconcat": [
        {"width": 504, "height": 1, "data": {"values": []}, "mark": "point"},
        {
          "vconcat": [
            {"width": 1, "height": 30.3, "data": {"values": []}, "mark": "point"},
            {
              "width": 64.7, "height": 12.7,
              "view": {"fill": "#d9d9d9", "stroke": "#4d4d4d", "strokeWidth": 0.8},
              "data": {"values": [{"metric": "Observed_species"}]},
              "mark": {"type": "text", "font": "Liberation Sans", "fontSize": 7.5, "color": "#1a1a1a", "baseline": "middle"},
              "encoding": {"text": {"field": "metric"}}
            },
            {
              "width": 64.7, "height": 189.3,
              "view": {"stroke": "#4d4d4d", "strokeWidth": 0.8},
              "layer": [
                {
                  "data": {"name": "alpha_box"},
                  "transform": [{"filter": "datum.metric === 'Observed_species'"}],
                  "mark": {"type": "rule", "strokeWidth": 0.9},
                  "encoding": {
                    "x": {"field": "group", "type": "nominal", "sort": ["NN", "HH", "HH + FMT"], "title": null,
                      "scale": {"paddingInner": 0.2, "paddingOuter": 0.2},
                      "axis": {"labelAngle": -55, "labelFontSize": 9.5, "tickSize": 2.5, "labelPadding": 2, "domain": false, "tickColor": "#333333"}},
                    "y": {"field": "lower", "type": "quantitative", "title": null,
                      "scale": {"domain": [778, 1789], "nice": false, "zero": false},
                      "axis": {"values": [1000, 1250, 1500, 1750], "tickCount": 10, "format": "d", "labelFontSize": 7.5, "tickSize": 2.5, "labelPadding": 1, "domain": false, "tickColor": "#333333", "labelOverlap": false}},
                    "y2": {"field": "q1"},
                    "stroke": {"field": "group", "type": "nominal", "scale": {"domain": ["NN", "HH", "HH + FMT"], "range": ["#bcaed5", "#f6bd82", "#3566a8"]}, "legend": null}
                  }
                },
                {
                  "data": {"name": "alpha_box"},
                  "transform": [{"filter": "datum.metric === 'Observed_species'"}],
                  "mark": {"type": "rule", "strokeWidth": 0.9},
                  "encoding": {
                    "x": {"field": "group", "type": "nominal", "sort": ["NN", "HH", "HH + FMT"], "title": null},
                    "y": {"field": "q3", "type": "quantitative", "title": null, "scale": {"domain": [778, 1789], "nice": false, "zero": false}},
                    "y2": {"field": "upper"},
                    "stroke": {"field": "group", "type": "nominal", "scale": {"domain": ["NN", "HH", "HH + FMT"], "range": ["#bcaed5", "#f6bd82", "#3566a8"]}, "legend": null}
                  }
                },
                {
                  "data": {"name": "alpha_box"},
                  "transform": [{"filter": "datum.metric === 'Observed_species'"}],
                  "mark": {"type": "bar", "strokeWidth": 0.9},
                  "encoding": {
                    "x": {"field": "group", "type": "nominal", "sort": ["NN", "HH", "HH + FMT"], "title": null},
                    "y": {"field": "q1", "type": "quantitative", "title": null, "scale": {"domain": [778, 1789], "nice": false, "zero": false}},
                    "y2": {"field": "q3"},
                    "fill": {"field": "group", "type": "nominal", "scale": {"domain": ["NN", "HH", "HH + FMT"], "range": ["#e2daee", "#fde2c6", "#7397cc"]}, "legend": null},
                    "stroke": {"field": "group", "type": "nominal", "scale": {"domain": ["NN", "HH", "HH + FMT"], "range": ["#bcaed5", "#f6bd82", "#3566a8"]}, "legend": null}
                  }
                },
                {
                  "data": {"name": "alpha_box"},
                  "transform": [{"filter": "datum.metric === 'Observed_species'"}],
                  "mark": {"type": "bar", "strokeWidth": 1.6, "fillOpacity": 0},
                  "encoding": {
                    "x": {"field": "group", "type": "nominal", "sort": ["NN", "HH", "HH + FMT"], "title": null},
                    "y": {"field": "median", "type": "quantitative", "title": null, "scale": {"domain": [778, 1789], "nice": false, "zero": false}},
                    "y2": {"field": "median"},
                    "stroke": {"field": "group", "type": "nominal", "scale": {"domain": ["NN", "HH", "HH + FMT"], "range": ["#bcaed5", "#f6bd82", "#3566a8"]}, "legend": null}
                  }
                },
                {
                  "data": {"name": "alpha_pts"},
                  "transform": [{"filter": "datum.metric === 'Observed_species'"}],
                  "mark": {"type": "circle", "size": 9, "opacity": 1},
                  "encoding": {
                    "x": {"field": "group", "type": "nominal", "sort": ["NN", "HH", "HH + FMT"], "title": null},
                    "xOffset": {"field": "mouse", "type": "nominal", "sort": "ascending", "scale": {"paddingOuter": 0.2}},
                    "y": {"field": "value", "type": "quantitative", "title": null, "scale": {"domain": [778, 1789], "nice": false, "zero": false}},
                    "color": {"field": "group", "type": "nominal", "scale": {"domain": ["NN", "HH", "HH + FMT"], "range": ["#b5a5d0", "#f7b878", "#3668ad"]}, "legend": null}
                  }
                },
                {
                  "data": {"name": "alpha_ref"},
                  "transform": [{"filter": "datum.metric === 'Observed_species'"}],
                  "mark": {"type": "rule", "strokeDash": [4, 2.5], "strokeWidth": 1, "color": "#000000"},
                  "encoding": {
                    "y": {"field": "ref", "type": "quantitative", "title": null, "scale": {"domain": [778, 1789], "nice": false, "zero": false}}
                  }
                },
                {
                  "data": {"name": "alpha_box"},
                  "transform": [{"filter": "datum.metric === 'Observed_species' && datum.sig"}],
                  "mark": {"type": "text", "text": "*", "fontSize": 11, "fontWeight": "bold", "color": "#4d4d4d", "baseline": "alphabetic", "dy": -1},
                  "encoding": {
                    "x": {"field": "group", "type": "nominal", "sort": ["NN", "HH", "HH + FMT"], "title": null},
                    "y": {"field": "max", "type": "quantitative", "title": null, "scale": {"domain": [778, 1789], "nice": false, "zero": false}}
                  }
                },
                {
                  "data": {"name": "alpha_ref"},
                  "transform": [{"filter": "datum.metric === 'Observed_species'"}],
                  "mark": {"type": "text", "text": "P", "fontStyle": "italic", "fontWeight": "bold", "fontSize": 9, "align": "right", "baseline": "middle", "dx": -9.7},
                  "encoding": {
                    "x": {"datum": "HH", "type": "nominal", "title": null},
                    "y": {"datum": 1700, "type": "quantitative", "title": null, "scale": {"domain": [778, 1789], "nice": false, "zero": false}}
                  }
                },
                {
                  "data": {"name": "alpha_ref"},
                  "transform": [{"filter": "datum.metric === 'Observed_species'"}],
                  "mark": {"type": "text", "text": "=", "fontWeight": "bold", "fontSize": 9, "align": "center", "baseline": "middle", "dx": -4.9},
                  "encoding": {
                    "x": {"datum": "HH", "type": "nominal", "title": null},
                    "y": {"datum": 1700, "type": "quantitative", "title": null, "scale": {"domain": [778, 1789], "nice": false, "zero": false}}
                  }
                },
                {
                  "data": {"name": "alpha_ref"},
                  "transform": [{"filter": "datum.metric === 'Observed_species'"}],
                  "mark": {"type": "text", "fontWeight": "bold", "fontSize": 9, "align": "left", "baseline": "middle", "dx": -0.1},
                  "encoding": {
                    "x": {"datum": "HH", "type": "nominal", "title": null},
                    "y": {"datum": 1700, "type": "quantitative", "title": null, "scale": {"domain": [778, 1789], "nice": false, "zero": false}},
                    "text": {"field": "p"}
                  }
                }
              ]
            }
          ],
          "spacing": 0, "bounds": "flush",
          "resolve": {"scale": {"color": "independent", "fill": "independent", "stroke": "independent", "xOffset": "independent"}}
        }
      ],
      "spacing": 0, "bounds": "flush",
      "resolve": {"scale": {"color": "independent", "fill": "independent", "stroke": "independent", "xOffset": "independent"}}
    },
    {
      "hconcat": [
        {"width": 347, "height": 1, "data": {"values": []}, "mark": "point"},
        {
          "vconcat": [
            {"width": 1, "height": 344.7, "data": {"values": []}, "mark": "point"},
            {
              "vconcat": [
                {
                  "width": 200, "height": 62.3,
                  "title": {"text": "D)", "dx": -62, "dy": -45},
                  "layer": [
                    {
                      "data": {"name": "scfa"},
                      "transform": [{"filter": "datum.acid === 'acetic acid'"}],
                      "mark": {"type": "bar", "clip": true, "stroke": "#000000", "strokeWidth": 1},
                      "encoding": {
                        "x": {"field": "acid", "type": "nominal", "scale": {"domain": ["acetic acid", "propionic acid", "butyric acid"], "paddingInner": 0.2, "paddingOuter": 0.05}, "axis": null},
                        "xOffset": {"field": "group", "type": "nominal", "scale": {"domain": ["NN", "HH", "HH + FMT"], "paddingInner": 0.243, "paddingOuter": 0.108}},
                        "y": {"field": "mean", "type": "quantitative", "title": null,
                          "scale": {"domain": [15, 50], "nice": false, "zero": false},
                          "axis": {"values": [15, 20, 30, 40, 50], "tickCount": 10, "labelExpr": "datum.value == 15 ? '' : datum.label", "labelOverlap": false, "labelFontSize": 9, "tickSize": 5, "tickWidth": 1.5, "tickColor": "#000000", "domainColor": "#000000", "domainWidth": 1.5, "labelPadding": 2}},
                        "y2": {"datum": 0},
                        "color": {"field": "group", "type": "nominal",
                          "scale": {"domain": ["NN", "HH", "HH + FMT"], "range": ["#378a4e", "#b1430f", "#2d5a82"]},
                          "legend": {"orient": "none", "legendX": 173.7, "legendY": 1.6, "title": null,
                            "symbolType": "M-1,-0.37H1V0.37H-1Z", "symbolSize": 151, "symbolStrokeColor": "#000000", "symbolStrokeWidth": 1, "symbolOpacity": 1,
                            "labelFont": "Liberation Serif", "labelFontWeight": "bold", "labelFontSize": 10, "labelColor": "#000000", "labelOffset": 9.5, "rowPadding": 0.3, "padding": 0}}
                      }
                    },
                    {
                      "data": {"name": "scfa"},
                      "transform": [{"filter": "datum.acid === 'acetic acid'"}],
                      "mark": {"type": "rule", "color": "#000000", "strokeWidth": 1},
                      "encoding": {
                        "x": {"field": "acid", "type": "nominal", "scale": {"domain": ["acetic acid", "propionic acid", "butyric acid"], "paddingInner": 0.2, "paddingOuter": 0.05}, "axis": null},
                        "xOffset": {"field": "group", "type": "nominal", "scale": {"domain": ["NN", "HH", "HH + FMT"], "paddingInner": 0.243, "paddingOuter": 0.108}},
                        "y": {"field": "mean", "type": "quantitative", "title": null, "scale": {"domain": [15, 50], "nice": false, "zero": false}},
                        "y2": {"field": "upper"}
                      }
                    },
                    {
                      "data": {"name": "scfa"},
                      "transform": [{"filter": "datum.acid === 'acetic acid'"}],
                      "mark": {"type": "tick", "color": "#000000", "thickness": 1, "size": 7},
                      "encoding": {
                        "x": {"field": "acid", "type": "nominal", "scale": {"domain": ["acetic acid", "propionic acid", "butyric acid"], "paddingInner": 0.2, "paddingOuter": 0.05}, "axis": null},
                        "xOffset": {"field": "group", "type": "nominal", "scale": {"domain": ["NN", "HH", "HH + FMT"], "paddingInner": 0.243, "paddingOuter": 0.108}},
                        "y": {"field": "upper", "type": "quantitative", "title": null, "scale": {"domain": [15, 50], "nice": false, "zero": false}}
                      }
                    },
                    {
                      "data": {"name": "brackets"},
                      "transform": [{"filter": "datum.acid === 'acetic acid'"}],
                      "mark": {"type": "line", "color": "#000000", "strokeWidth": 1},
                      "encoding": {
                        "x": {"field": "acid", "type": "nominal", "scale": {"domain": ["acetic acid", "propionic acid", "butyric acid"], "paddingInner": 0.2, "paddingOuter": 0.05}, "axis": null},
                        "xOffset": {"field": "group", "type": "nominal", "scale": {"domain": ["NN", "HH", "HH + FMT"], "paddingInner": 0.243, "paddingOuter": 0.108}},
                        "y": {"field": "y", "type": "quantitative", "title": null, "scale": {"domain": [15, 50], "nice": false, "zero": false}},
                        "detail": {"field": "bracket"},
                        "order": {"field": "v", "type": "quantitative"}
                      }
                    },
                    {
                      "data": {"name": "brackets"},
                      "transform": [{"filter": "datum.acid === 'acetic acid' && datum.v == 2"}],
                      "mark": {"type": "text", "text": "*", "fontSize": 10, "fontWeight": "bold", "color": "#000000", "baseline": "alphabetic", "dx": 9.25, "dy": -2},
                      "encoding": {
                        "x": {"field": "acid", "type": "nominal", "scale": {"domain": ["acetic acid", "propionic acid", "butyric acid"], "paddingInner": 0.2, "paddingOuter": 0.05}, "axis": null},
                        "xOffset": {"field": "group", "type": "nominal", "scale": {"domain": ["NN", "HH", "HH + FMT"], "paddingInner": 0.243, "paddingOuter": 0.108}},
                        "y": {"field": "y", "type": "quantitative", "title": null, "scale": {"domain": [15, 50], "nice": false, "zero": false}}
                      }
                    }
                  ]
                },
                {
                  "width": 200, "height": 62.4,
                  "layer": [
                    {
                      "data": {"name": "scfa"},
                      "mark": {"type": "bar", "clip": true, "stroke": "#000000", "strokeWidth": 1},
                      "encoding": {
                        "x": {"field": "acid", "type": "nominal", "title": null, "scale": {"domain": ["acetic acid", "propionic acid", "butyric acid"], "paddingInner": 0.2, "paddingOuter": 0.05},
                          "axis": {"labelAngle": -45, "labelFontSize": 11, "ticks": false, "domainColor": "#000000", "domainWidth": 1.5, "labelPadding": 4}},
                        "xOffset": {"field": "group", "type": "nominal", "scale": {"domain": ["NN", "HH", "HH + FMT"], "paddingInner": 0.243, "paddingOuter": 0.108}},
                        "y": {"field": "mean", "type": "quantitative", "title": "SCFA concentrations\u00a0 in\u00a0 serum (μg/mL)",
                          "scale": {"domain": [0, 10], "nice": false},
                          "axis": {"values": [0, 5, 10], "tickCount": 10, "labelOverlap": false, "title": "SCFA concentrations\u00a0 in\u00a0 serum (μg/mL)", "titleFontSize": 11.5, "titleY": -5.1, "titlePadding": 8, "labelFontSize": 9, "tickSize": 5, "tickWidth": 1.5, "tickColor": "#000000", "domainColor": "#000000", "domainWidth": 1.5, "labelPadding": 2}},
                        "color": {"field": "group", "type": "nominal", "scale": {"domain": ["NN", "HH", "HH + FMT"], "range": ["#378a4e", "#b1430f", "#2d5a82"]}, "legend": null}
                      }
                    },
                    {
                      "data": {"name": "scfa"},
                      "transform": [{"filter": "datum.acid !== 'acetic acid'"}],
                      "mark": {"type": "rule", "color": "#000000", "strokeWidth": 1},
                      "encoding": {
                        "x": {"field": "acid", "type": "nominal", "title": null, "scale": {"domain": ["acetic acid", "propionic acid", "butyric acid"], "paddingInner": 0.2, "paddingOuter": 0.05}},
                        "xOffset": {"field": "group", "type": "nominal", "scale": {"domain": ["NN", "HH", "HH + FMT"], "paddingInner": 0.243, "paddingOuter": 0.108}},
                        "y": {"field": "mean", "type": "quantitative", "title": "SCFA concentrations\u00a0 in\u00a0 serum (μg/mL)", "scale": {"domain": [0, 10], "nice": false}},
                        "y2": {"field": "upper"}
                      }
                    },
                    {
                      "data": {"name": "scfa"},
                      "transform": [{"filter": "datum.acid !== 'acetic acid'"}],
                      "mark": {"type": "tick", "color": "#000000", "thickness": 1, "size": 7},
                      "encoding": {
                        "x": {"field": "acid", "type": "nominal", "title": null, "scale": {"domain": ["acetic acid", "propionic acid", "butyric acid"], "paddingInner": 0.2, "paddingOuter": 0.05}},
                        "xOffset": {"field": "group", "type": "nominal", "scale": {"domain": ["NN", "HH", "HH + FMT"], "paddingInner": 0.243, "paddingOuter": 0.108}},
                        "y": {"field": "upper", "type": "quantitative", "title": "SCFA concentrations\u00a0 in\u00a0 serum (μg/mL)", "scale": {"domain": [0, 10], "nice": false}}
                      }
                    },
                    {
                      "data": {"name": "brackets"},
                      "transform": [{"filter": "datum.acid !== 'acetic acid'"}],
                      "mark": {"type": "line", "color": "#000000", "strokeWidth": 1},
                      "encoding": {
                        "x": {"field": "acid", "type": "nominal", "title": null, "scale": {"domain": ["acetic acid", "propionic acid", "butyric acid"], "paddingInner": 0.2, "paddingOuter": 0.05}},
                        "xOffset": {"field": "group", "type": "nominal", "scale": {"domain": ["NN", "HH", "HH + FMT"], "paddingInner": 0.243, "paddingOuter": 0.108}},
                        "y": {"field": "y", "type": "quantitative", "title": "SCFA concentrations\u00a0 in\u00a0 serum (μg/mL)", "scale": {"domain": [0, 10], "nice": false}},
                        "detail": {"field": "bracket"},
                        "order": {"field": "v", "type": "quantitative"}
                      }
                    },
                    {
                      "data": {"name": "brackets"},
                      "transform": [{"filter": "datum.acid !== 'acetic acid' && datum.v == 2"}],
                      "mark": {"type": "text", "text": "*", "fontSize": 10, "fontWeight": "bold", "color": "#000000", "baseline": "alphabetic", "dx": 9.25, "dy": -2},
                      "encoding": {
                        "x": {"field": "acid", "type": "nominal", "title": null, "scale": {"domain": ["acetic acid", "propionic acid", "butyric acid"], "paddingInner": 0.2, "paddingOuter": 0.05}},
                        "xOffset": {"field": "group", "type": "nominal", "scale": {"domain": ["NN", "HH", "HH + FMT"], "paddingInner": 0.243, "paddingOuter": 0.108}},
                        "y": {"field": "y", "type": "quantitative", "title": "SCFA concentrations\u00a0 in\u00a0 serum (μg/mL)", "scale": {"domain": [0, 10], "nice": false}}
                      }
                    }
                  ]
                }
              ],
              "spacing": 10.3, "bounds": "flush",
              "resolve": {"scale": {"color": "independent", "fill": "independent", "stroke": "independent"}, "legend": {"color": "independent"}}
            }
          ],
          "spacing": 0, "bounds": "flush",
          "resolve": {"scale": {"color": "independent", "fill": "independent", "stroke": "independent", "xOffset": "independent"}}
        }
      ],
      "spacing": 0, "bounds": "flush",
      "resolve": {"scale": {"color": "independent", "fill": "independent", "stroke": "independent", "xOffset": "independent"}}
    }
  ],
  "spacing": 0,
  "bounds": "flush",
  "resolve": {"scale": {"color": "independent", "fill": "independent", "stroke": "independent", "xOffset": "independent"}},
  "config": {
    "view": {"stroke": null},
    "font": "Liberation Serif",
    "title": {"font": "Liberation Serif", "fontSize": 17, "fontWeight": "bold", "color": "#000000", "anchor": "start", "frame": "group", "offset": 0, "baseline": "alphabetic"},
    "axis": {"grid": false, "labelFont": "Liberation Serif", "labelFontWeight": "bold", "labelColor": "#000000", "titleFont": "Liberation Serif", "titleFontWeight": "bold", "titleColor": "#000000", "labelOverlap": false},
    "text": {"font": "Liberation Serif"}
  }
}
